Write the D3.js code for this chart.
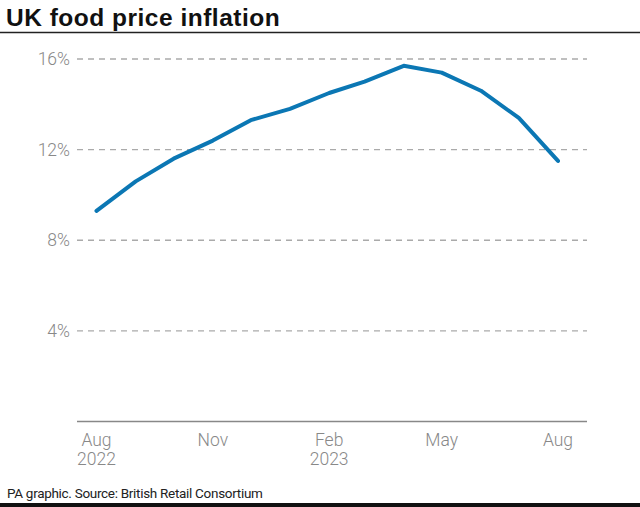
<!DOCTYPE html>
<html><head><meta charset="utf-8">
<script src="https://cdn.jsdelivr.net/npm/d3@7"></script>
<style>
html,body{margin:0;padding:0;background:#fff;}
svg{display:block;}
</style></head>
<body>
<script>
const months = ["2022-08","2022-09","2022-10","2022-11","2022-12","2023-01","2023-02","2023-03","2023-04","2023-05","2023-06","2023-07","2023-08"];
const inflation = [9.3,10.6,11.6,12.4,13.3,13.8,14.5,15.0,15.7,15.4,14.6,13.4,11.5];
const yTicks = [4,8,12,16];
const xTickMonths = ["2022-08","2022-11","2023-02","2023-05","2023-08"];
const xTickLine1 = ["Aug","Nov","Feb","May","Aug"];
const xTickLine2 = ["2022","","2023","",""];
const title = "UK food price inflation";
const source = "PA graphic. Source: British Retail Consortium";

const W = 640, H = 507;
const parse = d3.timeParse("%Y-%m");
const data = months.map((m,i)=>({date:parse(m), v:inflation[i]}));

const svg = d3.select("body").append("svg").attr("width",W).attr("height",H);

const x = d3.scaleTime().domain([parse("2022-08"), parse("2023-08")]).range([96.5,558]);
const y = d3.scaleLinear().domain([0,16]).range([421.5,59]);
const gridX0 = 77, gridX1 = 587;

// title
svg.append("text").attr("x",6).attr("y",26)
  .attr("font-family","'Liberation Sans', Arial, sans-serif").attr("font-weight",700)
  .attr("font-size",24.5).attr("fill","#111").attr("letter-spacing","0.5")
  .text(title);
svg.append("line").attr("x1",0).attr("x2",W).attr("y1",32.5).attr("y2",32.5)
  .attr("stroke","#222").attr("stroke-width",1.5);

// gridlines
svg.append("g").selectAll("line").data(yTicks).join("line")
  .attr("x1",gridX0).attr("x2",gridX1)
  .attr("y1",d=>y(d)).attr("y2",d=>y(d))
  .attr("stroke","#aaa").attr("stroke-width",1.3).attr("stroke-dasharray","6,5");

// y labels
svg.append("g").selectAll("text").data(yTicks).join("text")
  .attr("x",70).attr("y",d=>y(d)+6)
  .attr("text-anchor","end")
  .attr("font-family","Roboto, sans-serif").attr("font-weight",300)
  .attr("font-size",17.5).attr("fill","#888")
  .text(d=>d+"%");

// x axis line
svg.append("line").attr("x1",gridX0).attr("x2",gridX1)
  .attr("y1",y(0)).attr("y2",y(0)).attr("stroke","#888").attr("stroke-width",1.3);

// x labels
const xg = svg.append("g")
  .attr("font-family","Roboto, sans-serif").attr("font-weight",300)
  .attr("font-size",17.5).attr("fill","#888").attr("text-anchor","middle");
xg.selectAll("text.l1").data(xTickMonths).join("text").attr("class","l1")
  .attr("x",d=>x(parse(d))).attr("y",446).text((d,i)=>xTickLine1[i]);
xg.selectAll("text.l2").data(xTickMonths.filter((d,i)=>xTickLine2[i])).join("text").attr("class","l2")
  .attr("x",d=>x(parse(d))).attr("y",464.5).text(d=>xTickLine2[xTickMonths.indexOf(d)]);

// line
const line = d3.line().x(d=>x(d.date)).y(d=>y(d.v));
svg.append("path").datum(data).attr("d",line)
  .attr("fill","none").attr("stroke","#0b77b4").attr("stroke-width",4)
  .attr("stroke-linejoin","round").attr("stroke-linecap","round");

// source
svg.append("text").attr("x",7).attr("y",498)
  .attr("font-family","Roboto, sans-serif").attr("font-weight",400)
  .attr("font-size",13.5).attr("fill","#222").attr("letter-spacing","-0.3")
  .text(source);
svg.append("rect").attr("x",0).attr("y",503).attr("width",W).attr("height",4).attr("fill","#111");
</script>
</body></html>
